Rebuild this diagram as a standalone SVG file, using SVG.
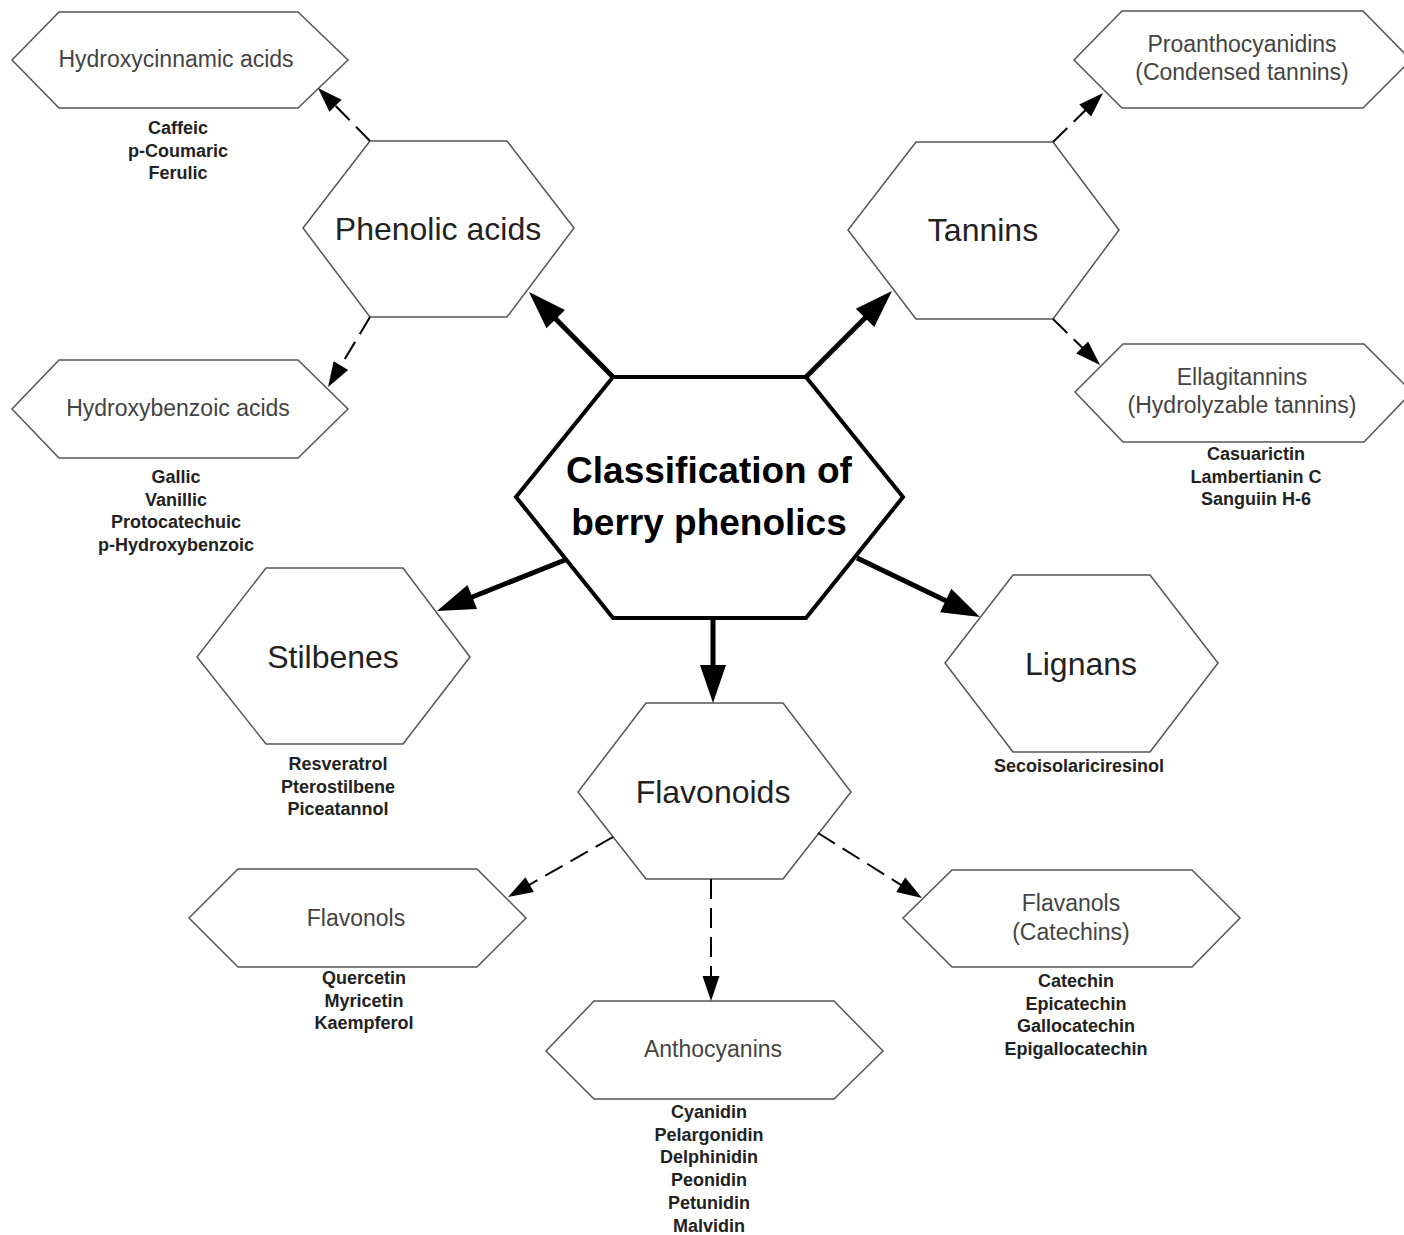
<svg xmlns="http://www.w3.org/2000/svg" width="1404" height="1235" viewBox="0 0 1404 1235">
<style>
.bg{fill:#fff}
.hex{fill:#fff;stroke:#555;stroke-width:1.5}
.hexc{fill:#fff;stroke:#000;stroke-width:4}
.big{font-family:"Liberation Sans",Arial,sans-serif;font-size:32px;fill:#222;text-anchor:middle}
.sub{font-family:"Liberation Sans",Arial,sans-serif;font-size:23px;fill:#444;text-anchor:middle}
.lst{font-family:"Liberation Sans",Arial,sans-serif;font-size:18px;font-weight:bold;fill:#222;text-anchor:middle}
.title{font-family:"Liberation Sans",Arial,sans-serif;font-size:37px;font-weight:bold;fill:#000;text-anchor:middle}
.solid{stroke:#000;stroke-width:5;fill:none;marker-end:url(#ah)}
.dash{stroke:#000;stroke-width:2;fill:none;stroke-dasharray:20 9;marker-end:url(#ahs)}
</style>
<defs>
<marker id="ah" markerUnits="userSpaceOnUse" markerWidth="40" markerHeight="28" refX="2" refY="13" orient="auto" overflow="visible">
<path d="M0,0 L38,13 L0,26 Z" fill="#000"/>
</marker>
<marker id="ahs" markerUnits="userSpaceOnUse" markerWidth="26" markerHeight="18" refX="1" refY="8.5" orient="auto" overflow="visible">
<path d="M0,0 L25,8.5 L0,17 Z" fill="#000"/>
</marker>
</defs>
<rect class="bg" x="0" y="0" width="1404" height="1235"/>

<g id="node-central">
<polygon class="hexc" points="613,377 806,377 903,497 806,618 613,618 516,497"/>
<text class="title" x="709" y="483">Classification of</text>
<text class="title" x="709" y="535">berry phenolics</text>
</g>

<g id="node-phenolic-acids">
<polygon class="hex" points="370,141 507,141 574,228 507,317 370,317 303,228"/>
<text class="big" x="438" y="240">Phenolic acids</text>
</g>

<g id="node-hydroxycinnamic">
<polygon class="hex" points="59,12 298,12 348,60 298,108 59,108 12,60"/>
<text class="sub" x="176" y="67">Hydroxycinnamic acids</text>
<text class="lst" x="178" y="134">Caffeic</text>
<text class="lst" x="178" y="156.5">p-Coumaric</text>
<text class="lst" x="178" y="179">Ferulic</text>
</g>

<g id="node-hydroxybenzoic">
<polygon class="hex" points="59,360 298,360 348,409 298,458 59,458 12,409"/>
<text class="sub" x="178" y="416">Hydroxybenzoic acids</text>
<text class="lst" x="176" y="483">Gallic</text>
<text class="lst" x="176" y="505.5">Vanillic</text>
<text class="lst" x="176" y="528">Protocatechuic</text>
<text class="lst" x="176" y="550.5">p-Hydroxybenzoic</text>
</g>

<g id="node-tannins">
<polygon class="hex" points="916,142 1053,142 1119,230 1053,319 916,319 848,230"/>
<text class="big" x="983" y="241">Tannins</text>
</g>

<g id="node-proanthocyanidins">
<polygon class="hex" points="1122,11 1363,11 1411,60 1363,108 1122,108 1074,60"/>
<text class="sub" x="1242" y="52">Proanthocyanidins</text>
<text class="sub" x="1242" y="80">(Condensed tannins)</text>
</g>

<g id="node-ellagitannins">
<polygon class="hex" points="1123,344 1364,344 1412,392 1364,442 1123,442 1075,392"/>
<text class="sub" x="1242" y="385">Ellagitannins</text>
<text class="sub" x="1242" y="413">(Hydrolyzable tannins)</text>
<text class="lst" x="1256" y="460">Casuarictin</text>
<text class="lst" x="1256" y="482.5">Lambertianin C</text>
<text class="lst" x="1256" y="505">Sanguiin H-6</text>
</g>

<g id="node-stilbenes">
<polygon class="hex" points="266,568 403,568 470,657 403,744 266,744 197,657"/>
<text class="big" x="333" y="668">Stilbenes</text>
<text class="lst" x="338" y="770">Resveratrol</text>
<text class="lst" x="338" y="792.5">Pterostilbene</text>
<text class="lst" x="338" y="815">Piceatannol</text>
</g>

<g id="node-lignans">
<polygon class="hex" points="1013,575 1150,575 1218,663 1150,752 1013,752 945,663"/>
<text class="big" x="1081" y="675">Lignans</text>
<text class="lst" x="1079" y="772">Secoisolariciresinol</text>
</g>

<g id="node-flavonoids">
<polygon class="hex" points="646,703 783,703 851,792 783,879 646,879 578,792"/>
<text class="big" x="713" y="803">Flavonoids</text>
</g>

<g id="node-flavonols">
<polygon class="hex" points="238,869 477,869 526,918 477,967 238,967 189,918"/>
<text class="sub" x="356" y="926">Flavonols</text>
<text class="lst" x="364" y="984">Quercetin</text>
<text class="lst" x="364" y="1006.5">Myricetin</text>
<text class="lst" x="364" y="1029">Kaempferol</text>
</g>

<g id="node-anthocyanins">
<polygon class="hex" points="594,1001 834,1001 883,1051 834,1099 594,1099 546,1051"/>
<text class="sub" x="713" y="1057">Anthocyanins</text>
<text class="lst" x="709" y="1118">Cyanidin</text>
<text class="lst" x="709" y="1140.7">Pelargonidin</text>
<text class="lst" x="709" y="1163.4">Delphinidin</text>
<text class="lst" x="709" y="1186.1">Peonidin</text>
<text class="lst" x="709" y="1208.8">Petunidin</text>
<text class="lst" x="709" y="1231.5">Malvidin</text>
</g>

<g id="node-flavanols">
<polygon class="hex" points="952,870 1192,870 1240,918 1192,967 952,967 903,918"/>
<text class="sub" x="1071" y="911">Flavanols</text>
<text class="sub" x="1071" y="940">(Catechins)</text>
<text class="lst" x="1076" y="987">Catechin</text>
<text class="lst" x="1076" y="1009.5">Epicatechin</text>
<text class="lst" x="1076" y="1032">Gallocatechin</text>
<text class="lst" x="1076" y="1054.5">Epigallocatechin</text>
</g>

<g id="connectors">
<line class="solid" x1="613" y1="377" x2="554.3" y2="317.6"/>
<line class="solid" x1="806" y1="377" x2="866.5" y2="316.5"/>
<line class="solid" x1="565" y1="560" x2="470.4" y2="597.7"/>
<line class="solid" x1="857" y1="558" x2="947.5" y2="601.4"/>
<line class="solid" x1="713" y1="618" x2="713" y2="667"/>
<line class="dash" x1="370" y1="141" x2="334.8" y2="105.1"/>
<line class="dash" x1="370" y1="317" x2="340.4" y2="366.4"/>
<line class="dash" x1="1053" y1="142" x2="1085.9" y2="109.8"/>
<line class="dash" x1="1053" y1="319" x2="1082.9" y2="348.2"/>
<line class="dash" x1="613" y1="837" x2="528.8" y2="885.1"/>
<line class="dash" x1="711" y1="879" x2="711" y2="977"/>
<line class="dash" x1="818" y1="833" x2="901.6" y2="885.3"/>
</g>
</svg>
